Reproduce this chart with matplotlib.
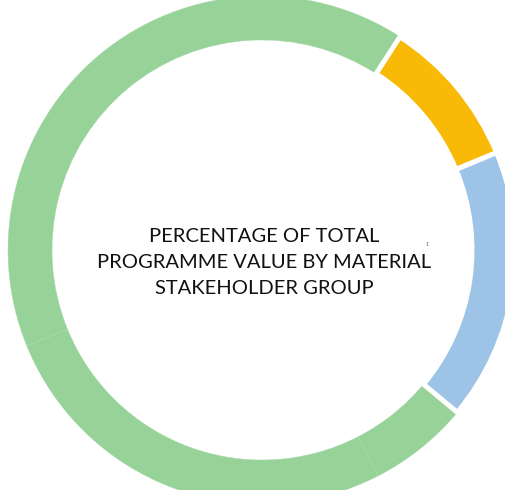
import matplotlib
matplotlib.use("Agg")
import matplotlib.pyplot as plt

# share of programme value per segment, clockwise from the top-right
groups = ["Yellow", "Blue", "Green A", "Green B", "Green C"]
shares = [9.6, 17.3, 6.4, 26.4, 40.3]
colors = ["#F8BA06", "#9DC3E6", "#97D399", "#97D399", "#97D399"]
title_lines = ["PERCENTAGE OF TOTAL", "PROGRAMME VALUE BY MATERIAL", "STAKEHOLDER GROUP"]

fig = plt.figure(figsize=(5.06, 4.90), dpi=100)
ax = fig.add_axes([0, 0, 1, 1])
ax.set_xlim(0, 506)
ax.set_ylim(0, 490)
ax.set_aspect("equal")
ax.axis("off")

wedges, _ = ax.pie(shares, colors=colors, startangle=57.1, counterclock=False,
                   center=(262, 240), radius=254,
                   wedgeprops=dict(width=44, linewidth=0))
# white gaps only around the yellow and blue segments
for w in wedges[:2]:
    w.set_edgecolor("white")
    w.set_linewidth(3.6)
    w.set_zorder(5)
for w in wedges[2:]:
    w.set_edgecolor("#a8d9a9")
    w.set_linewidth(0.3)

ax.set_xlim(0, 506)
ax.set_ylim(0, 490)

for line, y in zip(title_lines, [254, 227, 202]):
    ax.text(264, y, line, ha="center", va="center", fontsize=14.5,
            family="Lato", color="#111111")
ax.text(427, 246, "1", ha="center", va="center", fontsize=4,
        family="Lato", color="#666666")

fig.savefig("out.png", dpi=100)
